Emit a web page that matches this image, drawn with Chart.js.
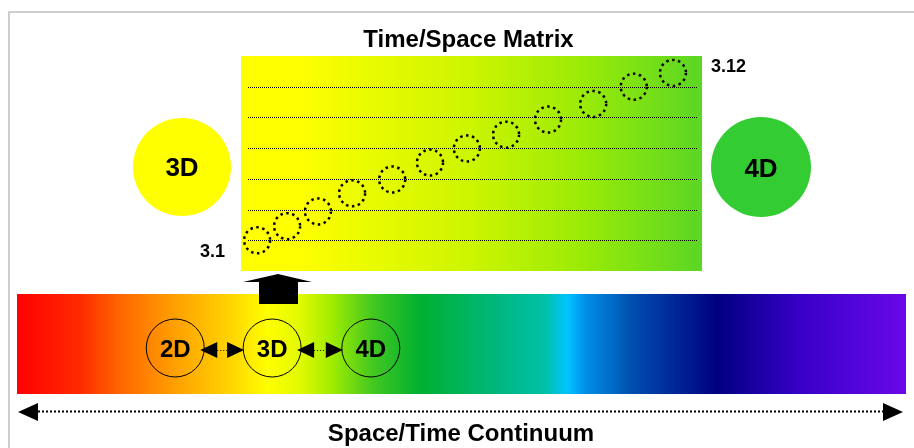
<!DOCTYPE html>
<html>
<head>
<meta charset="utf-8">
<title>Time/Space Matrix</title>
<script src="https://cdn.jsdelivr.net/npm/chart.js@4.4.1/dist/chart.umd.min.js"></script>
<style>
  html, body { margin: 0; padding: 0; background: #fff; }
  #wrap { width: 914px; height: 448px; }
</style>
</head>
<body>
<div id="wrap"><canvas id="matrixChart" width="914" height="448"></canvas></div>
<script>
// --- Data ---
const stepLabels = ['3.1', '3.2', '3.3', '3.4', '3.5', '3.6', '3.7', '3.8', '3.9', '3.10', '3.11', '3.12'];
const spaceValues = [3.5, 10.0, 16.7, 24.1, 32.8, 41.0, 49.0, 57.5, 66.6, 76.4, 85.2, 93.7];
const timeValues = [1.0, 1.46, 1.94, 2.53, 2.98, 3.53, 3.99, 4.44, 4.93, 5.44, 6.0, 6.45];
const timeTicks = [1, 2, 3, 4, 5, 6];
const dimensionLabels = ['2D', '3D', '4D'];
const dimensionAt = [17.8, 28.7, 39.8]; // % along the continuum
const sideLabels = ['3D', '4D'];
const chartTitle = 'Time/Space Matrix';
const continuumTitle = 'Space/Time Continuum';

const FONT = "'Liberation Sans', Arial, Helvetica, sans-serif";

// spectrum colours of the continuum bar
const spectrumStops = [
  [0, '#ff0000'], [0.07, '#ff2a00'], [0.12, '#ff6a00'], [0.18, '#ffa200'],
  [0.24, '#ffd400'], [0.282, '#ffff00'], [0.318, '#e2fa00'], [0.352, '#a4ee00'],
  [0.40, '#44c820'], [0.453, '#00b030'], [0.543, '#00b880'], [0.594, '#00c0a8'],
  [0.619, '#00c4ff'], [0.639, '#0090e8'], [0.69, '#0050b0'], [0.787, '#000080'],
  [0.88, '#3800c8'], [1, '#6a08e8']
];

function label(ctx, text, x, y, size, align) {
  ctx.font = `bold ${size}px ${FONT}`;
  ctx.fillStyle = '#000';
  ctx.textAlign = align || 'center';
  ctx.textBaseline = 'alphabetic';
  ctx.fillText(text, x, y);
}

function triangle(ctx, tipX, y, len, half) {
  ctx.beginPath();
  ctx.moveTo(tipX, y);
  ctx.lineTo(tipX + len, y - half);
  ctx.lineTo(tipX + len, y + half);
  ctx.closePath();
  ctx.fill();
}

function dottedLine(ctx, x1, y1, x2, y2, width, dash) {
  ctx.save();
  ctx.strokeStyle = '#000';
  ctx.lineWidth = width;
  ctx.setLineDash(dash);
  ctx.beginPath();
  ctx.moveTo(x1, y1);
  ctx.lineTo(x2, y2);
  ctx.stroke();
  ctx.restore();
}

const diagram = {
  id: 'diagram',
  beforeDatasetsDraw(chart) {
    const { ctx, chartArea: a, scales: { y } } = chart;
    ctx.save();
    // frame
    ctx.strokeStyle = '#cfcfcf';
    ctx.lineWidth = 2;
    ctx.beginPath();
    ctx.moveTo(9, 448);
    ctx.lineTo(9, 12);
    ctx.lineTo(914, 12);
    ctx.stroke();

    // matrix background
    const g = ctx.createLinearGradient(a.left, 0, a.right, 0);
    g.addColorStop(0, '#ffff00');
    g.addColorStop(0.12, '#ffff00');
    g.addColorStop(0.5, '#ccf500');
    g.addColorStop(0.75, '#98ea08');
    g.addColorStop(1, '#5ad624');
    ctx.fillStyle = g;
    ctx.fillRect(a.left, a.top, a.width, a.height);

    // dotted time lines
    timeTicks.forEach(t => {
      const py = Math.round(y.getPixelForValue(t)) + 0.5;
      dottedLine(ctx, a.left + 7, py, a.right - 5, py, 1, [1, 1]);
    });

    // title
    label(ctx, chartTitle, (a.left + a.right) / 2 - 3, 47, 24);

    // side circles
    ctx.fillStyle = '#ffff00';
    ctx.beginPath(); ctx.arc(182, 167, 49, 0, Math.PI * 2); ctx.fill();
    ctx.fillStyle = '#33cc33';
    ctx.beginPath(); ctx.arc(761, 167, 50, 0, Math.PI * 2); ctx.fill();
    label(ctx, sideLabels[0], 182, 176, 26);
    label(ctx, sideLabels[1], 761, 177, 26);
    ctx.restore();
  },
  beforeDatasetDraw(chart) { chart.ctx.setLineDash([2.5, 3.5]); },
  afterDatasetDraw(chart) { chart.ctx.setLineDash([]); },
  afterDraw(chart) {
    const { ctx } = chart;
    const pts = chart.getDatasetMeta(0).data;
    ctx.save();
    // first / last step labels
    const p0 = pts[0], pN = pts[pts.length - 1];
    label(ctx, stepLabels[0], p0.x - 32, p0.y + 17, 18, 'right');
    label(ctx, stepLabels[stepLabels.length - 1], pN.x + 38, pN.y - 1, 18, 'left');

    // continuum bar
    const bx = 17, by = 294, bw = 889, bh = 100;
    const sg = ctx.createLinearGradient(bx, 0, bx + bw, 0);
    spectrumStops.forEach(s => sg.addColorStop(s[0], s[1]));
    ctx.fillStyle = sg;
    ctx.fillRect(bx, by, bw, bh);

    // arrow from the continuum up into the matrix
    ctx.fillStyle = '#000';
    ctx.beginPath();
    ctx.moveTo(243, 282);
    ctx.lineTo(278, 274);
    ctx.lineTo(312, 282);
    ctx.lineTo(298, 282);
    ctx.lineTo(298, 304);
    ctx.lineTo(259, 304);
    ctx.lineTo(259, 282);
    ctx.closePath();
    ctx.fill();

    // dimension circles on the continuum
    const r = 29, cy = 348;
    const cxs = dimensionAt.map(v => bx + bw * v / 100);
    cxs.forEach((cx, i) => {
      ctx.strokeStyle = '#000';
      ctx.lineWidth = 1;
      ctx.beginPath(); ctx.arc(cx, cy, r, 0, Math.PI * 2); ctx.stroke();
      label(ctx, dimensionLabels[i], cx, cy + 9, 24);
    });
    for (let i = 0; i < cxs.length - 1; i++) {
      const tipL = cxs[i] + r - 4, tipR = cxs[i + 1] - r + 1;
      ctx.fillStyle = '#000';
      triangle(ctx, tipL, cy + 2, 17, 8);
      triangle(ctx, tipR, cy + 2, -17, 8);
      dottedLine(ctx, tipL + 17, cy + 2.5, tipR - 17, cy + 2.5, 1, [1, 2]);
    }

    // double arrow + continuum label
    ctx.fillStyle = '#000';
    triangle(ctx, 18, 412, 20, 9);
    triangle(ctx, 903, 412, -20, 9);
    dottedLine(ctx, 38, 411.5, 883, 411.5, 2, [2, 2]);
    label(ctx, continuumTitle, 461, 441, 24);
    ctx.restore();
  }
};

new Chart(document.getElementById('matrixChart'), {
  type: 'scatter',
  data: {
    labels: stepLabels,
    datasets: [{
      label: 'Time/Space steps',
      data: spaceValues.map((v, i) => ({ x: v, y: timeValues[i] })),
      pointRadius: 13,
      pointHoverRadius: 13,
      pointBorderWidth: 2.5,
      pointBorderColor: '#000',
      pointBackgroundColor: 'rgba(0,0,0,0)',
      clip: false
    }]
  },
  options: {
    responsive: false,
    animation: false,
    devicePixelRatio: 1,
    layout: { padding: { left: 241, right: 212, top: 56, bottom: 177 } },
    plugins: { legend: { display: false }, tooltip: { enabled: false } },
    events: [],
    scales: {
      x: { type: 'linear', min: 0, max: 100, display: false },
      y: { type: 'linear', min: 0, max: 7, display: false }
    }
  },
  plugins: [diagram]
});
</script>
</body>
</html>
